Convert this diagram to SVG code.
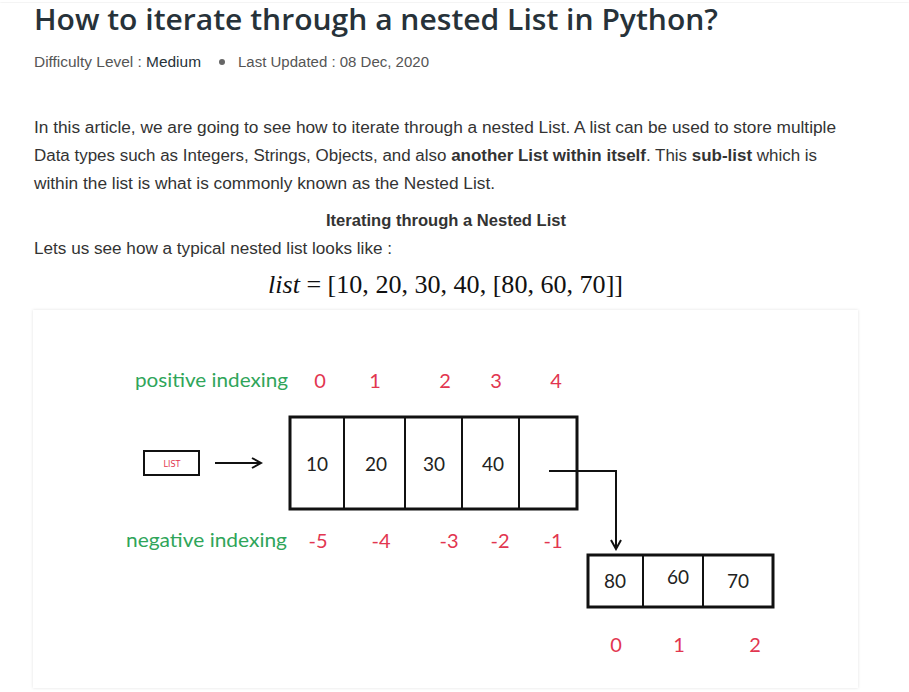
<svg xmlns="http://www.w3.org/2000/svg" width="909" height="692" viewBox="0 0 909 692">
<defs>
<style>
.t{font-family:"Liberation Sans",Arial,sans-serif;fill:#273239}
.p{font-family:"Liberation Sans",Arial,sans-serif;font-size:16px;fill:#333}
.b{font-weight:bold}
.h{font-family:"Lato","DejaVu Sans",sans-serif;font-weight:400}
.g{fill:#2fa55a;font-size:20px}
.r{fill:#e23650;font-size:20px}
.c{fill:#222;font-size:19px}
.box{fill:none;stroke:#111;stroke-width:2}
.thick{fill:none;stroke:#111;stroke-width:3}
.cell{stroke:#111;stroke-width:2}
</style>
<marker id="ah" viewBox="0 0 12 12" refX="10" refY="6" markerWidth="12" markerHeight="12" markerUnits="userSpaceOnUse" orient="auto">
<path d="M1 1 L10 6 L1 11" fill="none" stroke="#111" stroke-width="2"/>
</marker>
<filter id="sh" x="-5%" y="-5%" width="110%" height="110%">
<feDropShadow dx="0" dy="0" stdDeviation="1.5" flood-color="#000" flood-opacity="0.12"/>
</filter>
</defs>
<rect width="909" height="692" fill="#fff"/>
<rect x="0" y="-6" width="909" height="8" fill="#fff" filter="url(#sh)"/>
<g id="header">
<text x="34" y="30" font-family="'Open Sans','Liberation Sans',sans-serif" font-weight="600" font-size="28" fill="#273239" textLength="684" lengthAdjust="spacingAndGlyphs">How to iterate through a nested List in Python?</text>
<text class="t" x="34" y="67" font-size="14" style="fill:#555" textLength="167" lengthAdjust="spacingAndGlyphs">Difficulty Level : <tspan style="fill:#273239">Medium</tspan></text>
<circle cx="222" cy="62" r="3" fill="#666"/>
<text class="t" x="238" y="67" font-size="14" style="fill:#555" textLength="191" lengthAdjust="spacingAndGlyphs">Last Updated : 08 Dec, 2020</text>
</g>
<g id="article">
<text class="p" x="34" y="133" textLength="802" lengthAdjust="spacingAndGlyphs">In this article, we are going to see how to iterate through a nested List. A list can be used to store multiple</text>
<text class="p" x="34" y="161" textLength="783" lengthAdjust="spacingAndGlyphs">Data types such as Integers, Strings, Objects, and also <tspan class="b">another List within itself</tspan>. This <tspan class="b">sub-list</tspan> which is</text>
<text class="p" x="34" y="189" textLength="461" lengthAdjust="spacingAndGlyphs">within the list is what is commonly known as the Nested List.</text>
<text class="p b" x="326" y="226" textLength="240" lengthAdjust="spacingAndGlyphs">Iterating through a Nested List</text>
<text class="p" x="34" y="254" textLength="358" lengthAdjust="spacingAndGlyphs">Lets us see how a typical nested list looks like :</text>
<text x="268" y="293" font-family="'Liberation Serif','Times New Roman',serif" font-size="26" fill="#111" textLength="355" lengthAdjust="spacingAndGlyphs"><tspan font-style="italic">list</tspan> = [10, 20, 30, 40, [80, 60, 70]]</text>
</g>
<rect x="33" y="310" width="825" height="378" fill="#fff" filter="url(#sh)"/>
<g id="labels" class="h">
<text class="g" x="135" y="387" textLength="153" lengthAdjust="spacingAndGlyphs">positive indexing</text>
<text class="g" x="126" y="547" textLength="161" lengthAdjust="spacingAndGlyphs">negative indexing</text>
<g class="r" text-anchor="middle">
<text x="320" y="388">0</text><text x="375" y="388">1</text><text x="445" y="388">2</text><text x="496" y="388">3</text><text x="556" y="388">4</text>
<text x="318" y="548">-5</text><text x="381" y="548">-4</text><text x="449" y="548">-3</text><text x="500" y="548">-2</text><text x="553" y="548">-1</text>
<text x="616" y="652">0</text><text x="679" y="652">1</text><text x="755" y="652">2</text>
</g>
</g>
<g id="list-label">
<rect x="144" y="451" width="55" height="24" class="box"/>
<text x="172" y="467" text-anchor="middle" font-family="'DejaVu Sans',sans-serif" font-size="8" fill="#e23650">LIST</text>
</g>
<g id="main-list">
<rect x="290" y="417" width="287" height="92" class="thick"/>
<line x1="344" y1="417" x2="344" y2="509" class="cell"/>
<line x1="405" y1="417" x2="405" y2="509" class="cell"/>
<line x1="462" y1="417" x2="462" y2="509" class="cell"/>
<line x1="519" y1="417" x2="519" y2="509" class="cell"/>
<g class="h c" text-anchor="middle">
<text x="317" y="471">10</text><text x="376" y="471">20</text><text x="434" y="471">30</text><text x="493" y="471">40</text>
</g>
</g>
<g id="sub-list">
<rect x="588" y="555" width="185" height="52" class="thick"/>
<line x1="643" y1="555" x2="643" y2="607" class="cell"/>
<line x1="703" y1="555" x2="703" y2="607" class="cell"/>
<g class="h c" text-anchor="middle" font-size="18">
<text x="615" y="588">80</text><text x="678" y="584">60</text><text x="738" y="588">70</text>
</g>
</g>
<g id="connectors" fill="none" stroke="#111" stroke-width="2">
<line x1="215" y1="463" x2="261" y2="463" marker-end="url(#ah)"/>
<polyline points="549,471 616,471 616,549" marker-end="url(#ah)"/>
</g>
</svg>
